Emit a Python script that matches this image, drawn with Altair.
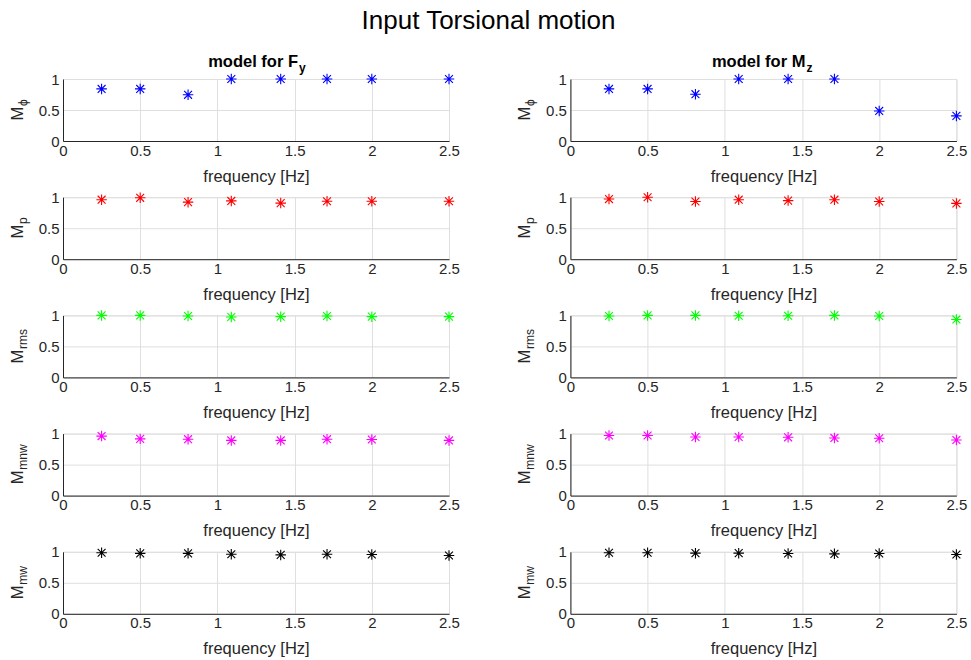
import altair as alt
import pandas as pd

# ---------------- data ----------------
freq = [0.25, 0.5, 0.81, 1.09, 1.41, 1.71, 2.0, 2.5]

fy_phi = [0.84, 0.84, 0.745, 1.0, 1.0, 1.0, 1.0, 1.0]
fy_p = [0.96, 0.99, 0.92, 0.94, 0.905, 0.935, 0.935, 0.935]
fy_rms = [1.0, 1.0, 0.99, 0.975, 0.98, 0.99, 0.98, 0.98]
fy_mnw = [0.96, 0.915, 0.91, 0.89, 0.89, 0.91, 0.905, 0.89]
fy_mw = [0.985, 0.975, 0.975, 0.96, 0.95, 0.96, 0.957, 0.94]

mz_phi = [0.84, 0.84, 0.755, 1.0, 1.0, 1.0, 0.485, 0.405]
mz_p = [0.97, 1.0, 0.93, 0.96, 0.945, 0.96, 0.93, 0.90]
mz_rms = [0.99, 1.0, 1.0, 0.995, 0.995, 1.0, 0.99, 0.935]
mz_mnw = [0.97, 0.97, 0.945, 0.945, 0.94, 0.93, 0.925, 0.897]
mz_mw = [0.985, 0.985, 0.978, 0.978, 0.973, 0.967, 0.973, 0.957]

subscripts = ["ϕ", "p", "rms", "mnw", "mw"]
sub_lengths = [7, 6.7, 20, 25.3, 18.7]
colors = ["#0000ff", "#ff0000", "#00ff00", "#ff00ff", "#000000"]
x_ticks = [0, 0.5, 1, 1.5, 2, 2.5]
y_ticks = [0, 0.5, 1]

main_title = "Input Torsional motion"
col_titles = [("model for F", "y"), ("model for M", "z")]

# ---------------- style ----------------
W, H = 386, 62
FONT = "Liberation Sans"
TXT = "#262626"
GRID = "#dfdfdf"
STAR = "M-1,0L1,0M0,-1L0,1M-0.75,-0.75L0.75,0.75M-0.75,0.75L0.75,-0.75"
one = pd.DataFrame({"k": [0]})


def text_layer(txt, x, y, size, **kw):
    return alt.Chart(one).mark_text(
        text=txt, font=FONT, fontSize=size, color=kw.pop("color", TXT), **kw
    ).encode(x=alt.value(x), y=alt.value(y))


def panel(values, idx, col):
    df = pd.DataFrame({"f": freq, "v": values})
    pts = alt.Chart(df).mark_point(
        shape=STAR, size=110, filled=False, stroke=colors[idx],
        strokeWidth=1.1, opacity=1,
    ).encode(
        x=alt.X("f:Q", scale=alt.Scale(domain=[0, 2.5], nice=False, zero=False),
                axis=alt.Axis(values=x_ticks, format="~g", title="frequency [Hz]",
                              titleFont=FONT, titleFontSize=16.5, titleFontWeight="normal",
                              titleColor=TXT, titlePadding=10,
                              labelFont=FONT, labelFontSize=15, labelColor=TXT,
                              labelFlush=False, labelPadding=2, ticks=False,
                              domainColor=TXT, gridColor=GRID)),
        y=alt.Y("v:Q", scale=alt.Scale(domain=[0, 1], nice=False, zero=False),
                axis=alt.Axis(values=y_ticks, format="~g", title=None,
                              labelFont=FONT, labelFontSize=15, labelColor=TXT,
                              labelFlush=False, labelPadding=4, ticks=False,
                              domainColor=TXT, gridColor=GRID)),
    )
    L = 14 + sub_lengths[idx]
    m_start = H / 2 + L / 2
    layers = [
        pts,
        text_layer("M", -40, m_start, 16.5, angle=270, align="left", baseline="alphabetic"),
        text_layer(subscripts[idx], -36.5, m_start - 14.5, 12, angle=270, align="left",
                   baseline="alphabetic"),
    ]
    if idx == 0:
        main, sub = col_titles[col]
        layers.append(text_layer(main, 235, -12, 16.5, fontWeight="bold", align="right",
                                 baseline="alphabetic", color="#000000"))
        layers.append(text_layer(sub, 236, -7, 12, fontWeight="bold", align="left",
                                 baseline="alphabetic", color="#000000"))
        if col == 0:
            layers.append(text_layer(main_title, 425.5, -50, 26, align="center",
                                     baseline="alphabetic", color="#000000"))
    return alt.layer(*layers).properties(width=W, height=H)


left = [fy_phi, fy_p, fy_rms, fy_mnw, fy_mw]
right = [mz_phi, mz_p, mz_rms, mz_mnw, mz_mw]

panels = []
for i in range(5):
    panels.append(panel(left[i], i, 0))
    panels.append(panel(right[i], i, 1))

chart = alt.concat(
    *panels, columns=2, bounds="flush",
    spacing=alt.RowColnumber(row=56.2, column=121.4),
).properties(
    padding={"left": 9, "top": 7, "right": 0, "bottom": 0}
).configure_view(strokeWidth=0).configure(background="white")

chart.save("out.html", embed_options={"renderer": "svg", "actions": False})
